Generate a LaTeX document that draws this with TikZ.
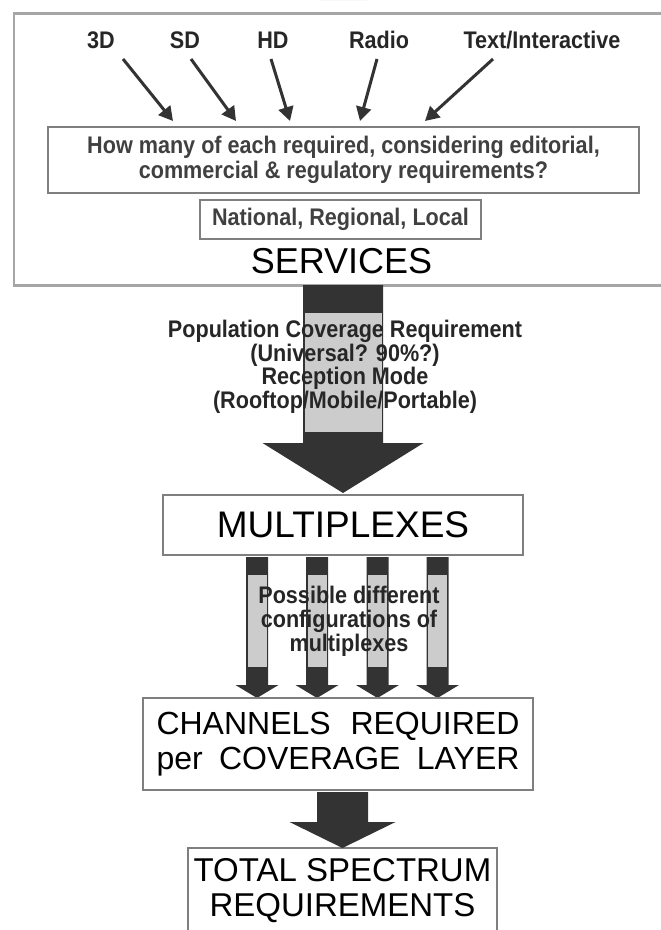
\documentclass[tikz,border=0pt]{standalone}
\usepackage{fontspec}
\setmainfont{Liberation Sans}
\newfontfamily\condsans[FakeStretch=0.9]{Liberation Sans}
\usetikzlibrary{arrows.meta}
\definecolor{boxgray}{HTML}{7F7F7F}
\definecolor{outergray}{HTML}{A6A6A6}
\definecolor{arrowdark}{HTML}{333333}
\definecolor{arrowlight}{HTML}{CCCCCC}
\definecolor{labeltext}{HTML}{262626}
\definecolor{qtext}{HTML}{404040}
% #1 x centre, #2 half shaft width, #3 top y, #4 light start, #5 light end, #6 head start, #7 head half width, #8 tip y
\newcommand{\stripearrow}[8]{%
  \fill[arrowdark] (#1-#2,#3) -- (#1+#2,#3) -- (#1+#2,#6) -- (#1+#7,#6) -- (#1,#8) -- (#1-#7,#6) -- (#1-#2,#6) -- cycle;
  \fill[arrowlight] (#1-#2+1.5,#4) rectangle (#1+#2-1.5,#5);
}
\begin{document}
\begin{tikzpicture}[x=1pt,y=-1pt,
  boxnode/.style={draw=boxgray, line width=1.5pt, fill=white, inner sep=0pt},
  outerbox/.style={draw=outergray, line width=2.5pt, inner sep=0pt},
  boldlabel/.style={font=\condsans\fontsize{24}{25}\selectfont\bfseries, text=labeltext, inner sep=0pt, align=center},
  bigtext/.style={font=\fontsize{33}{35}\selectfont, text=black, inner sep=0pt, align=center},
  toparrow/.style={draw=arrowdark, line width=3pt, -{Triangle[length=14pt,width=15pt]}},
]
\useasboundingbox (0,0) rectangle (661,930);
\fill[white] (0,0) rectangle (661,930);

% SERVICES container
\node[outerbox, anchor=north west, minimum width=660pt, minimum height=272pt] (svc) at (12.5,12) {};
\node[bigtext, font=\fontsize{36}{38}\selectfont] (svclabel) at (341.5,261) {SERVICES};

% service types
\node[boldlabel] (l3d) at (101,40) {3D};
\node[boldlabel] (lsd) at (185,40) {SD};
\node[boldlabel] (lhd) at (273,40) {HD};
\node[boldlabel] (lradio) at (379,40) {Radio};
\node[boldlabel] (ltext) at (542,40) {Text/Interactive};

% question box
\node[boxnode, minimum width=591pt, minimum height=66pt, font=\condsans\fontsize{24}{25}\selectfont\bfseries, text=qtext, align=center] (q) at (343.5,160)
  {How many of each required, considering editorial,\\commercial \& regulatory requirements?};
\node[boxnode, minimum width=281pt, minimum height=39pt, font=\condsans\fontsize{24}{25}\selectfont\bfseries, text=qtext] (nat) at (340.5,219.5) {National, Regional, Local};

% arrows into the question box
\coordinate (s1) at (123,59);  \coordinate (e1) at (173,121);
\coordinate (s2) at (191,59);  \coordinate (e2) at (236,121);
\coordinate (s3) at (271,59);  \coordinate (e3) at (290,121);
\coordinate (s4) at (377,59);  \coordinate (e4) at (360,121);
\coordinate (s5) at (493,59);  \coordinate (e5) at (425,121);
\draw[toparrow] (s1) -- (e1);
\draw[toparrow] (s2) -- (e2);
\draw[toparrow] (s3) -- (e3);
\draw[toparrow] (s4) -- (e4);
\draw[toparrow] (s5) -- (e5);

% big arrow services -> multiplexes
\stripearrow{343}{40}{285}{313}{432}{443}{80.5}{493}
\node[boldlabel, font=\condsans\fontsize{24}{23.5}\selectfont\bfseries] (popl) at (345,367)
  {Population Coverage Requirement\\(Universal? 90\%?)\\Reception Mode\\(Rooftop/Mobile/Portable)};

% multiplexes
\node[boxnode, minimum width=360pt, minimum height=60pt, font=\fontsize{37}{40}\selectfont] (mux) at (343,525) {MULTIPLEXES};

% four configuration arrows
\stripearrow{257}{11}{557}{575}{667}{685}{21.5}{698}
\stripearrow{317}{11}{557}{575}{667}{685}{21.5}{698}
\stripearrow{377.5}{11}{557}{575}{667}{685}{21.5}{698}
\stripearrow{437.5}{11}{557}{575}{667}{685}{21.5}{698}
\node[boldlabel, font=\condsans\fontsize{24}{24}\selectfont\bfseries] (poss) at (349,621)
  {Possible different\\configurations of\\multiplexes};

% channels
\node[boxnode, minimum width=390pt, minimum height=92pt, font=\fontsize{32}{35}\selectfont, align=center] (chan) at (338,744)
  {\makebox[363pt]{CHANNELS\hfill REQUIRED}\\\makebox[363pt]{per\hfill COVERAGE\hfill LAYER}};

% total
\node[boxnode, anchor=north, minimum width=309pt, minimum height=100pt] (total) at (342.5,847) {};
\node[bigtext] (totaltext) at (342.5,890.5) {TOTAL SPECTRUM\\REQUIREMENTS};

% arrow channels -> total
\stripearrow{342.5}{25.5}{792}{0}{0}{822}{53}{848}
\end{tikzpicture}
\end{document}
